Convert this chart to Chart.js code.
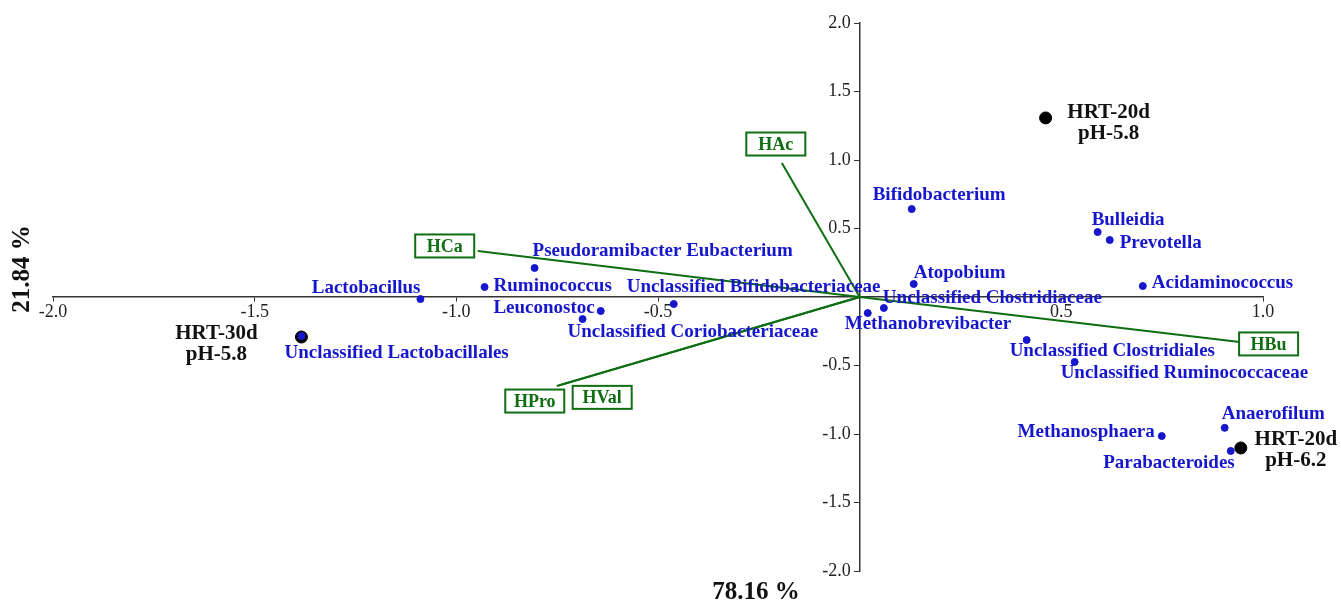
<!DOCTYPE html>
<html>
<head>
<meta charset="utf-8">
<script src="https://cdn.jsdelivr.net/npm/chart.js@4.4.0/dist/chart.umd.min.js"></script>
<style>
  body { margin: 0; background: #fff; }
  #wrap { width: 1341px; height: 606px; }
</style>
</head>
<body>
<div id="wrap"><canvas id="myChart"></canvas></div>
<script>
// especes (points bleus)
var species = ['Lactobacillus', 'Unclassified Lactobacillales', 'Pseudoramibacter Eubacterium', 'Ruminococcus',
  'Leuconostoc', 'Unclassified Coriobacteriaceae', 'Unclassified Bifidobacteriaceae', 'Bifidobacterium',
  'Bulleidia', 'Prevotella', 'Atopobium', 'Acidaminococcus', 'Unclassified Clostridiaceae',
  'Methanobrevibacter', 'Unclassified Clostridiales', 'Unclassified Ruminococcaceae', 'Anaerofilum',
  'Methanosphaera', 'Parabacteroides'];
var speciesX = [-1.089, -1.384, -0.806, -0.930, -0.642, -0.687, -0.461, 0.129, 0.590, 0.620, 0.134, 0.702,
  0.060, 0.020, 0.414, 0.533, 0.905, 0.749, 0.920];
var speciesY = [-0.015, -0.285, 0.212, 0.073, -0.102, -0.161, -0.051, 0.642, 0.474, 0.416, 0.095, 0.080,
  -0.080, -0.117, -0.314, -0.474, -0.955, -1.015, -1.124];

// echantillons (points noirs)
var samples = ['HRT-30d', 'HRT-20d', 'HRT-20d'];
var samplesPH = ['pH-5.8', 'pH-5.8', 'pH-6.2'];
var samplesX = [-1.384, 0.461, 0.945];
var samplesY = [-0.292, 1.307, -1.102];

// variables (vecteurs verts)
var factors = ['HAc', 'HCa', 'HBu', 'HPro', 'HVal'];
var factorsX = [-0.193, -0.947, 0.942, -0.751, -0.745];
var factorsY = [0.978, 0.336, -0.328, -0.650, -0.645];

var xTitle = '78.16 %';
var yTitle = '21.84 %';

// placement des etiquettes : [align, dx, dy] en pixels
var speciesPos = [['right', 0, -11], ['left', -17, 17], ['left', -2, -17], ['left', 9, -1],
  ['right', -6, -3], ['left', -15, 13], ['left', -47, -17], ['left', -39, -14],
  ['left', -6, -12], ['left', 10, 3], ['left', 0, -11], ['left', 9, -3], ['left', -1, -10],
  ['left', -23, 11], ['left', -17, 11], ['left', -14, 11], ['left', -3, -14],
  ['right', -7, -4], ['right', 4, 12]];
var samplesPos = [[-85, -3], [63, -5], [55, -8]];
var factorsPos = [[-6, -19], [-33, -5], [29, 2], [-22, 15], [43, 12]];

var BLUE = '#1616cc';
var GREEN = '#0f6e12';
var SERIF = '"Liberation Serif", "Times New Roman", serif';

var datasets = [{
  label: 'species',
  data: species.map(function(s, i) { return {x: speciesX[i], y: speciesY[i]}; }),
  backgroundColor: BLUE,
  borderColor: BLUE,
  pointRadius: 3.5,
  order: 0
}, {
  label: 'samples',
  data: samples.map(function(s, i) { return {x: samplesX[i], y: samplesY[i]}; }),
  backgroundColor: '#000',
  borderColor: '#000',
  pointRadius: 6,
  order: 1
}];
factors.forEach(function(f, i) {
  datasets.push({
    label: f,
    data: [{x: 0, y: 0}, {x: factorsX[i], y: factorsY[i]}],
    showLine: true,
    borderColor: GREEN,
    borderWidth: 2,
    pointRadius: 0,
    order: 2
  });
});

// etiquettes dessinees a la main
const labelPlugin = {
  id: 'labels',
  afterDatasetsDraw(chart) {
    const ctx = chart.ctx;
    const x = chart.scales.x, y = chart.scales.y;
    ctx.save();
    ctx.textBaseline = 'middle';

    // especes
    ctx.font = 'bold 19px ' + SERIF;
    ctx.fillStyle = BLUE;
    species.forEach(function(s, i) {
      const p = speciesPos[i];
      ctx.textAlign = p[0];
      ctx.fillText(s, x.getPixelForValue(speciesX[i]) + p[1], y.getPixelForValue(speciesY[i]) + p[2]);
    });

    // echantillons
    ctx.font = 'bold 21px ' + SERIF;
    ctx.fillStyle = '#111';
    ctx.textAlign = 'center';
    samples.forEach(function(s, i) {
      const px = x.getPixelForValue(samplesX[i]) + samplesPos[i][0];
      const py = y.getPixelForValue(samplesY[i]) + samplesPos[i][1];
      ctx.fillText(s, px, py);
      ctx.fillText(samplesPH[i], px, py + 21);
    });

    // boites des variables
    ctx.font = 'bold 18px ' + SERIF;
    ctx.lineWidth = 2;
    ctx.strokeStyle = GREEN;
    factors.forEach(function(f, i) {
      const cx = x.getPixelForValue(factorsX[i]) + factorsPos[i][0];
      const cy = y.getPixelForValue(factorsY[i]) + factorsPos[i][1];
      ctx.fillStyle = '#fff';
      ctx.fillRect(cx - 29.5, cy - 11.5, 59, 23);
      ctx.strokeRect(cx - 29.5, cy - 11.5, 59, 23);
      ctx.fillStyle = GREEN;
      ctx.fillText(f, cx, cy + 1);
    });

    // titres des axes
    ctx.font = 'bold 25px ' + SERIF;
    ctx.fillStyle = '#111';
    ctx.fillText(xTitle, 756, 593);
    ctx.translate(23, 269);
    ctx.rotate(-Math.PI / 2);
    ctx.fillText(yTitle, 0, 0);
    ctx.restore();
  }
};

function tickLabel(v) {
  return v === 0 ? '' : v.toFixed(1);
}
// axe y centre : les etiquettes collent a l'axe, on les decale avec des espaces
function tickLabelY(v) {
  return v === 0 ? '' : v.toFixed(1) + '\u2002';
}
function tickColor(c) {
  return c.tick && c.tick.value === 0 ? 'rgba(0,0,0,0)' : '#333';
}

const ctx = document.getElementById('myChart').getContext('2d');

const config = {
  type: 'scatter',
  data: { datasets: datasets },
  options: {
    responsive: true,
    maintainAspectRatio: false,
    animation: false,
    layout: { padding: { left: 53, right: 78, top: 23, bottom: 35 } },
    plugins: {
      legend: { display: false },
      tooltip: { enabled: false }
    },
    scales: {
      x: {
        type: 'linear',
        min: -2, max: 1,
        position: { y: 0 },
        border: { display: true, color: '#333', width: 1.5 },
        grid: { drawOnChartArea: false, drawTicks: true, tickLength: 4, color: tickColor },
        ticks: {
          stepSize: 0.5, padding: 0, maxRotation: 0, autoSkip: false,
          color: '#222', font: { family: SERIF, size: 18 },
          callback: tickLabel
        }
      },
      y: {
        type: 'linear',
        min: -2, max: 2,
        position: { x: 0 },
        border: { display: true, color: '#333', width: 1.5 },
        grid: { drawOnChartArea: false, drawTicks: true, tickLength: 5, color: tickColor },
        ticks: {
          stepSize: 0.5, padding: 3, autoSkip: false,
          color: '#222', font: { family: SERIF, size: 18 },
          callback: tickLabelY
        }
      }
    }
  },
  plugins: [labelPlugin]
};

const chart = new Chart(ctx, config);
</script>
</body>
</html>
